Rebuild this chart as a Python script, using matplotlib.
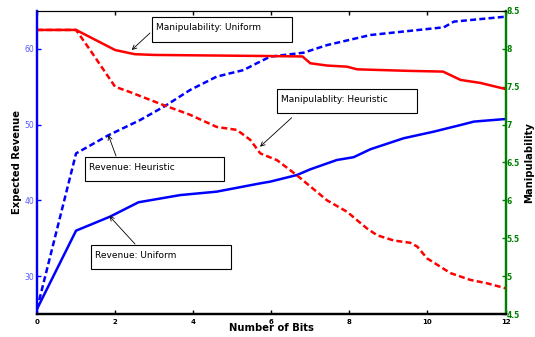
import matplotlib
matplotlib.use("Agg")
import matplotlib.pyplot as plt
from matplotlib.patches import Rectangle, FancyArrowPatch

# ---- data ----
x_rev_uni = [0, 1, 1.87, 2.6, 3.67, 4.6, 5.72, 5.97, 6.66, 7.0, 7.68, 8.11, 8.54, 9.39, 10.16, 10.85, 11.19, 12]
rev_uni = [25.66, 36.0, 37.85, 39.75, 40.7, 41.15, 42.25, 42.47, 43.35, 44.1, 45.33, 45.7, 46.75, 48.2, 49.07, 49.95, 50.4, 50.74]

x_rev_heu = [0, 1, 1.83, 2.64, 3.28, 3.92, 4.6, 4.95, 5.29, 5.63, 5.97, 6.83, 7.43, 8.54, 10.42, 10.68, 12]
rev_heu = [25.66, 46.2, 48.6, 50.6, 52.46, 54.57, 56.33, 56.78, 57.2, 58.1, 58.97, 59.5, 60.5, 61.83, 62.85, 63.6, 64.25]

x_man_uni = [0, 1, 2, 2.5, 3, 4, 5, 5.8, 6.8, 7.0, 7.43, 7.94, 8.2, 9.5, 10.4, 10.85, 11.36, 12]
man_uni = [8.25, 8.25, 7.985, 7.93, 7.92, 7.915, 7.91, 7.906, 7.90, 7.81, 7.78, 7.765, 7.73, 7.71, 7.70, 7.59, 7.55, 7.47]

x_man_heu = [0, 1, 1.36, 2.0, 2.38, 3.23, 3.92, 4.6, 5.12, 5.46, 5.72, 6.15, 6.66, 7.43, 7.94, 8.45, 8.71, 9.14, 9.56, 9.74, 9.99, 10.59, 11.1, 11.53, 12]
man_heu = [8.25, 8.25, 7.985, 7.50, 7.43, 7.26, 7.13, 6.97, 6.93, 6.80, 6.62, 6.53, 6.33, 6.0, 5.85, 5.63, 5.54, 5.47, 5.44, 5.39, 5.235, 5.04, 4.95, 4.905, 4.84]

xticks = [0, 2, 4, 6, 8, 10, 12]
left_ticks = [30, 40, 50, 60]
right_ticks = [4.5, 5, 5.5, 6, 6.5, 7, 7.5, 8, 8.5]
right_ticklabels = ["4.5", "5", "5.5", "6", "6.5", "7", "7.5", "8", "8.5"]

W, H = 535, 337
fig = plt.figure(figsize=(W / 100, H / 100), dpi=100)
ax = fig.add_axes([37 / W, (H - 314) / H, (505.5 - 37) / W, (314 - 11) / H])
ax2 = ax.twinx()

BLUE = (0, 0, 1)
RED = (1, 0, 0)
GREEN = (0, 0.5, 0)
lw = 1.8
dash = (0, (2.4, 1.3))

ax.plot(x_rev_uni, rev_uni, color=BLUE, lw=lw)
ax.plot(x_rev_heu, rev_heu, color=BLUE, lw=lw, linestyle=dash)
ax2.plot(x_man_uni, man_uni, color=RED, lw=lw)
ax2.plot(x_man_heu, man_heu, color=RED, lw=lw, linestyle=dash)

ax.set_xlim(0, 12)
ax.set_ylim(25, 65)
ax2.set_ylim(4.5, 8.5)
ax.set_xticks(xticks)
ax.set_xticklabels([str(t) for t in xticks], fontsize=5, fontweight="bold")
ax.set_yticks(left_ticks)
ax.set_yticklabels([str(t) for t in left_ticks], fontsize=5.5)
ax2.set_yticks(right_ticks)
ax2.set_yticklabels(right_ticklabels, fontsize=5.5, fontweight="bold")

ax.tick_params(axis="x", direction="in", length=3, width=1, top=True, pad=3.5)
ax.tick_params(axis="y", direction="in", length=3, width=1, color=BLUE,
               labelcolor=(0.35, 0.35, 1), pad=2)
ax2.tick_params(axis="y", direction="in", length=3, width=1, color=GREEN,
                labelcolor=GREEN, pad=1)

for a in (ax, ax2):
    a.spines["left"].set_color(BLUE)
    a.spines["left"].set_linewidth(1.6)
    a.spines["right"].set_color(GREEN)
    a.spines["right"].set_linewidth(1.6)
    a.spines["bottom"].set_linewidth(1.6)
    a.spines["top"].set_linewidth(0.8)

ax.set_xlabel("Number of Bits", fontsize=7.2, fontweight="bold", labelpad=-1)
ax.set_ylabel("Expected Revenue", fontsize=7.2, fontweight="bold", labelpad=2)
ax2.set_ylabel("Manipulability", fontsize=7.2, fontweight="bold", labelpad=3)


def px(x, y):
    return (x / W, (H - y) / H)


def box(x0, y0, x1, y1, text):
    r = Rectangle(px(x0, y1), (x1 - x0) / W, (y1 - y0) / H, transform=fig.transFigure,
                  facecolor="white", edgecolor="black", lw=0.8, zorder=10)
    fig.add_artist(r)
    fig.text((x0 + 4) / W, 1 - (y0 + 10) / H, text, fontsize=6.5, va="center", ha="left",
             zorder=11)


def arrow(tip, tail):
    fig.add_artist(FancyArrowPatch(
        px(*tail), px(*tip), transform=fig.transFigure, arrowstyle="->,head_length=3,head_width=1.5",
        lw=0.6, color="black", shrinkA=0, shrinkB=0, zorder=12))


box(152, 17, 292, 42, "Manipulability: Uniform")
arrow((131.7, 50), (150, 33))
box(85, 157, 224, 181, "Revenue: Heuristic")
arrow((108.3, 135), (116, 156))
box(91, 245, 231, 269, "Revenue: Uniform")
arrow((109.3, 216), (135, 244))
box(277, 89, 417, 113, "Manipulablity: Heuristic")
arrow((260, 146.7), (291.7, 117.7))

fig.savefig("out.png", dpi=100)
